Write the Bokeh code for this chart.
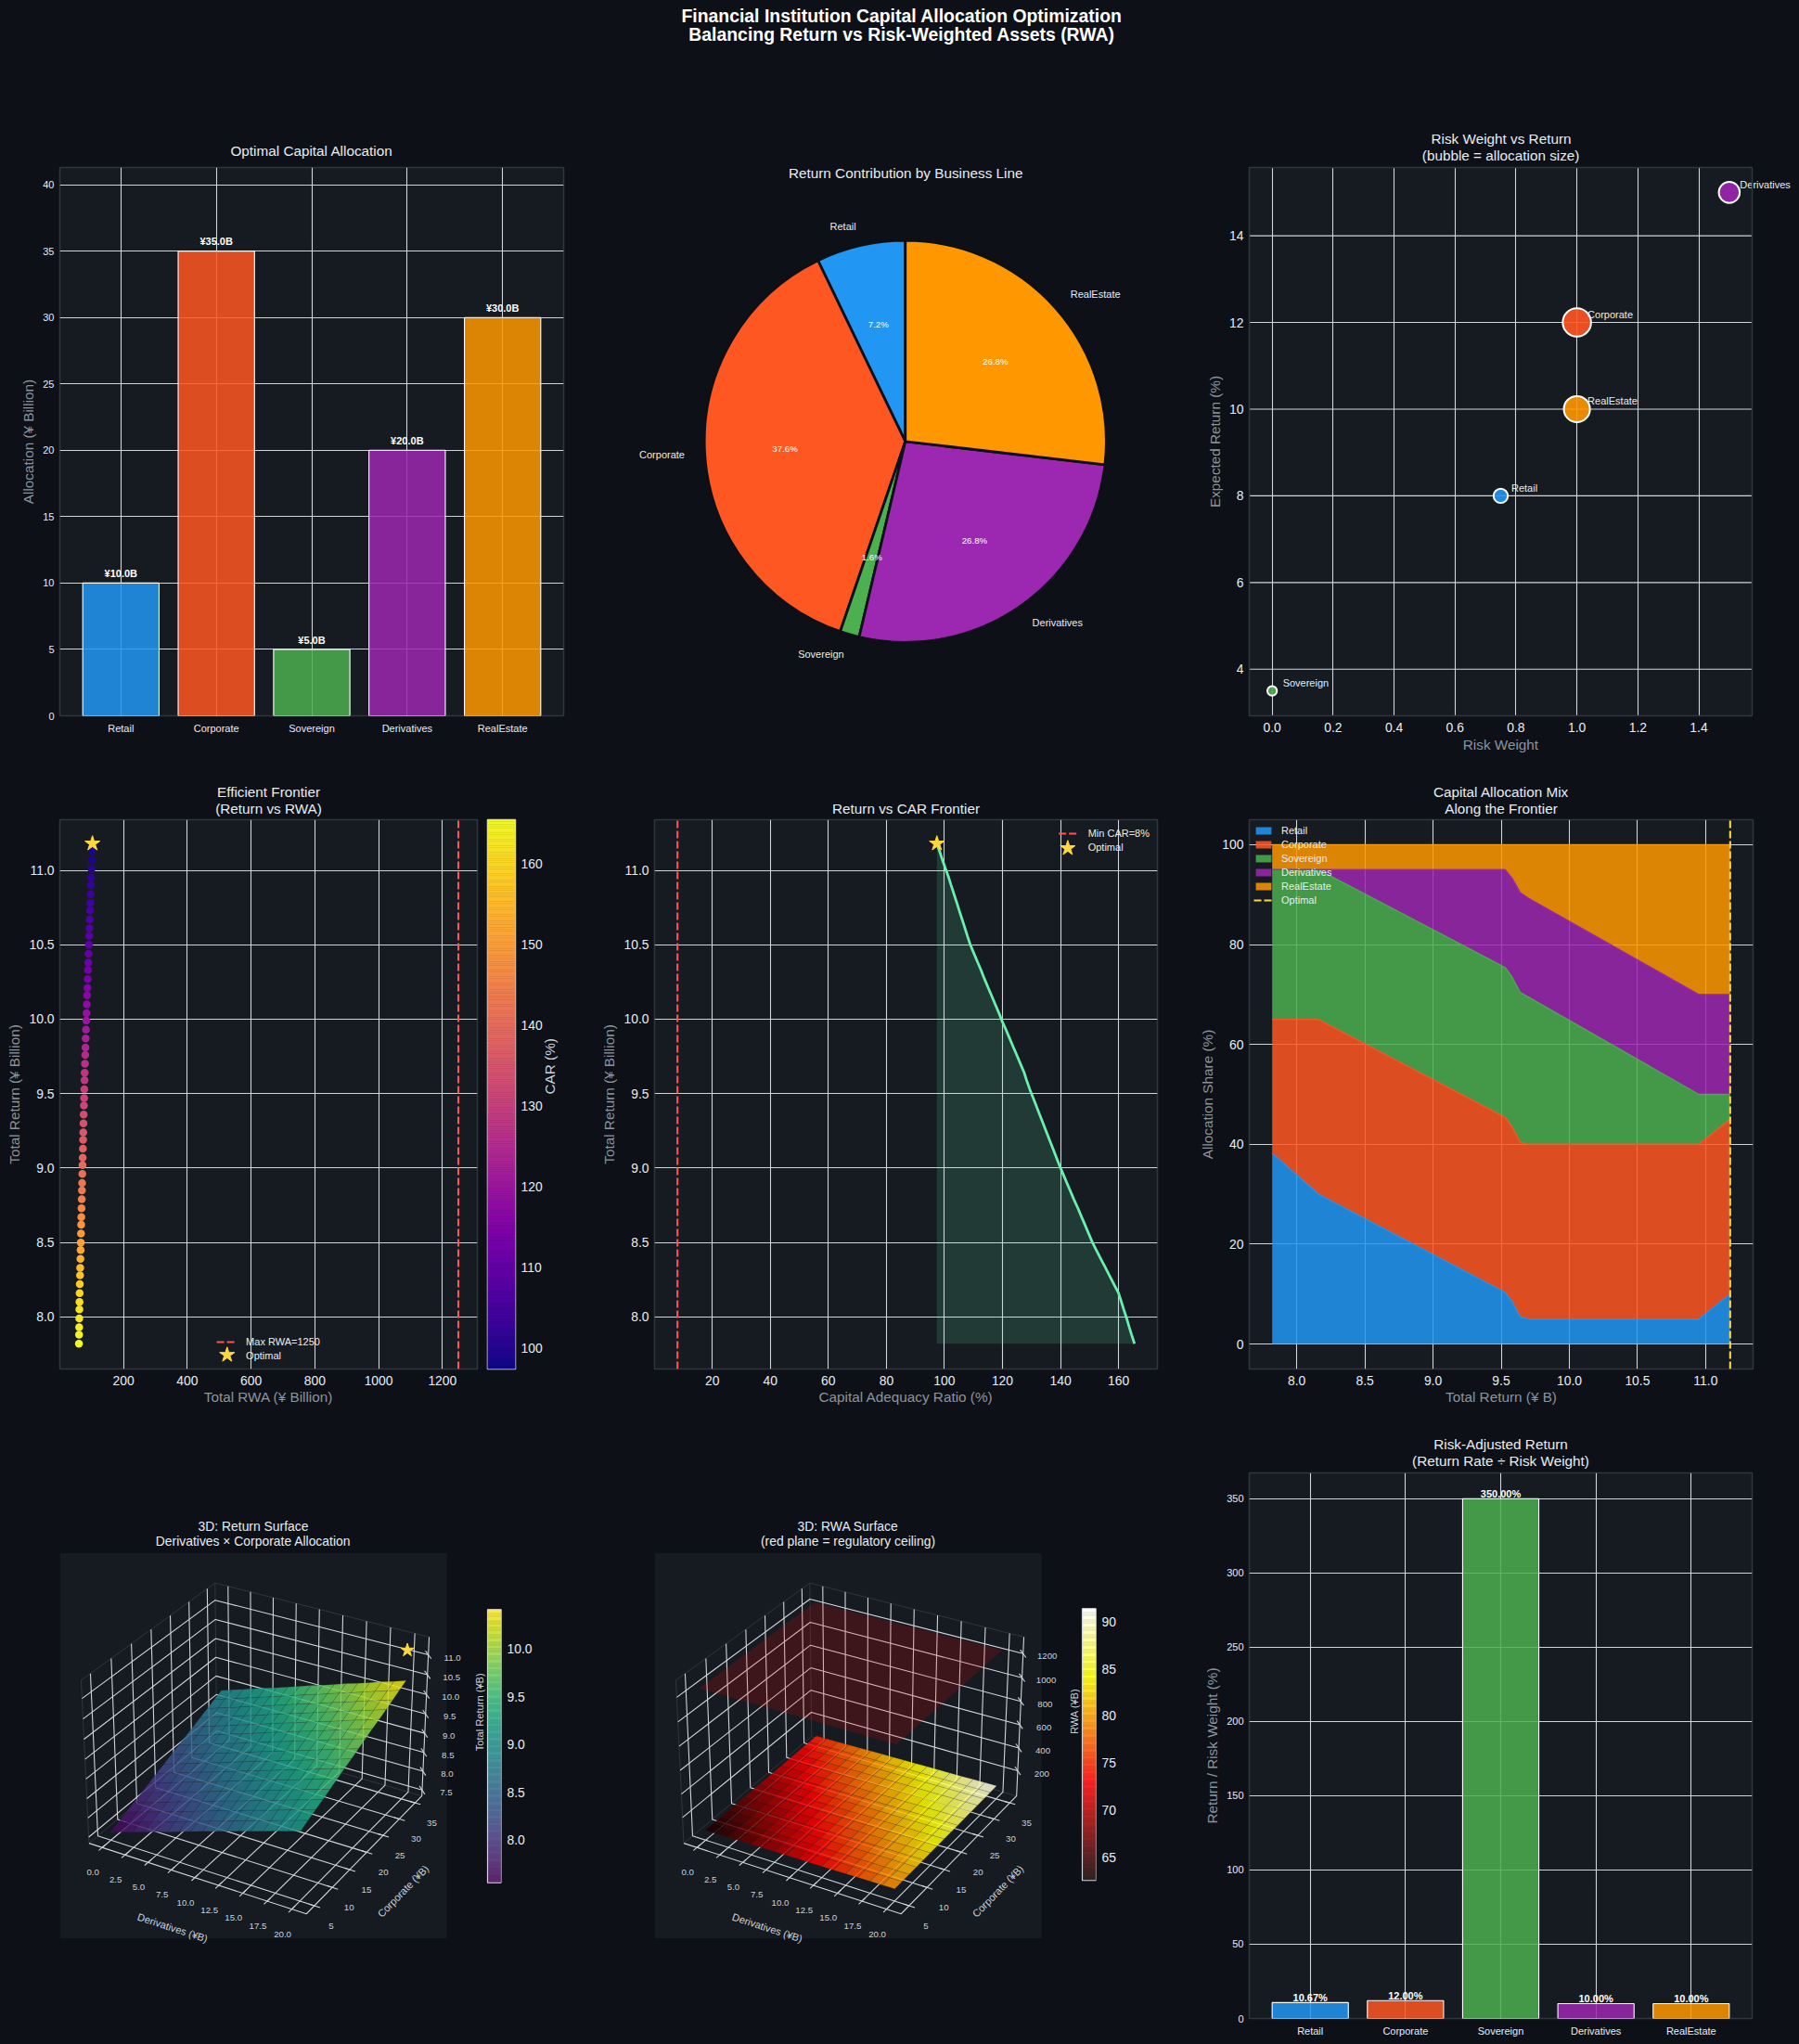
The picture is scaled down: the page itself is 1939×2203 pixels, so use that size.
import math
import numpy as np
from bokeh.plotting import figure
from bokeh.layouts import column, row
from bokeh.models import Range1d, FixedTicker, PrintfTickFormatter, Legend, LegendItem, LinearColorMapper, ColumnDataSource, Title
from bokeh.palettes import Plasma256, Viridis256
from bokeh.core.properties import value
from bokeh.embed import file_html
from bokeh.resources import INLINE

CATEGORIES = ["Retail", "Corporate", "Sovereign", "Derivatives", "RealEstate"]
COLORS = ["#2196F3", "#FF5722", "#4CAF50", "#9C27B0", "#FF9800"]
ALLOCATION = [10, 35, 5, 20, 30]
RETURN_CONTRIB = [0.8, 4.2, 0.175, 3.0, 3.0]
RISK_WEIGHT = [0.75, 1.0, 0.0, 1.5, 1.0]
EXPECTED_RETURN = [8, 12, 3.5, 15, 10]
RISK_ADJ = [10.67, 12.0, 350.0, 10.0, 10.0]

FR_RETURN = [7.82,7.88,7.93,7.99,8.05,8.10,8.16,8.22,8.28,8.33,8.39,8.45,8.50,8.56,8.62,8.67,8.73,8.79,8.85,8.90,
             8.96,9.02,9.07,9.13,9.19,9.24,9.30,9.36,9.42,9.47,9.53,9.59,9.64,9.70,9.76,9.81,9.87,9.93,9.99,10.04,
             10.10,10.16,10.21,10.27,10.33,10.38,10.44,10.50,10.56,10.61,10.67,10.73,10.78,10.84,10.90,10.95,11.01,11.07,11.13,11.18]
FR_CAR = [165.5,164.5,163.7,162.8,161.8,161.0,160.0,158.4,156.8,155.5,153.9,152.3,151.0,149.7,148.4,147.3,146.0,144.6,143.3,142.2,
          140.9,139.6,138.6,137.4,136.2,135.2,134.0,132.8,131.6,130.6,129.4,128.3,127.5,126.2,124.9,123.8,122.5,121.2,119.8,118.8,
          117.5,116.2,115.1,113.8,112.6,111.5,110.2,108.9,107.9,107.1,106.1,105.1,104.3,103.3,102.3,101.5,100.4,99.3,98.3,97.4]
FR_RWA = [60.4,60.8,61.1,61.4,61.8,62.1,62.5,63.1,63.8,64.3,65.0,65.7,66.2,66.8,67.4,67.9,68.5,69.2,69.8,70.3,
          71.0,71.6,72.2,72.8,73.4,74.0,74.6,75.3,76.0,76.6,77.3,78.0,78.4,79.3,80.1,80.8,81.6,82.5,83.5,84.2,
          85.1,86.1,86.9,87.9,88.8,89.7,90.7,91.8,92.7,93.4,94.3,95.1,95.9,96.8,97.8,98.5,99.6,100.7,101.7,102.7]
OPT_RETURN, OPT_RWA, OPT_CAR = 11.18, 102.7, 97.4
MAX_RWA, MIN_CAR = 1250, 8

MIX_RETURN = [7.82, 8.16, 9.53, 9.58, 9.64, 9.70, 10.95, 11.18]
MIX = {
    "Retail": [38.2, 30.0, 10.3, 8.5, 5.4, 5.0, 5.0, 10.0],
    "Corporate": [26.8, 35.0, 35.1, 35.0, 35.0, 35.0, 35.0, 35.0],
    "Sovereign": [30.0, 30.0, 30.0, 30.0, 30.0, 29.5, 10.0, 5.0],
    "Derivatives": [0.0, 0.0, 19.6, 19.8, 20.0, 19.8, 20.0, 20.0],
    "RealEstate": [5.0, 5.0, 5.0, 6.7, 9.6, 10.7, 30.0, 30.0],
}

DERIV_GRID = [0,1.25,2.5,3.75,5,6.25,7.5,8.75,10,11.25,12.5,13.75,15,16.25,17.5,18.75,20]
CORP_GRID = [5,7,9,11,13,15,17,19,21,23,25,27,29,31,33,35]
RETURN_SURF = [
 [7.55,7.65,7.74,7.84,7.94,8.03,8.13,8.23,8.33,8.42,8.52,8.62,8.71,8.81,8.91,9.00,9.10],
 [7.64,7.74,7.83,7.93,8.03,8.12,8.22,8.32,8.42,8.51,8.61,8.71,8.80,8.90,9.00,9.09,9.19],
 [7.73,7.83,7.92,8.02,8.12,8.21,8.31,8.41,8.51,8.60,8.70,8.80,8.89,8.99,9.09,9.18,9.28],
 [7.81,7.91,8.00,8.10,8.20,8.29,8.39,8.49,8.59,8.68,8.78,8.88,8.97,9.07,9.17,9.26,9.36],
 [7.90,8.00,8.09,8.19,8.29,8.38,8.48,8.58,8.68,8.77,8.87,8.97,9.06,9.16,9.26,9.35,9.45],
 [7.99,8.09,8.18,8.28,8.38,8.47,8.57,8.67,8.77,8.86,8.96,9.06,9.15,9.25,9.35,9.44,9.54],
 [8.08,8.18,8.27,8.37,8.47,8.56,8.66,8.76,8.86,8.95,9.05,9.15,9.24,9.34,9.44,9.53,9.63],
 [8.16,8.26,8.35,8.45,8.55,8.64,8.74,8.84,8.94,9.03,9.13,9.23,9.32,9.42,9.52,9.61,9.71],
 [8.25,8.35,8.44,8.54,8.64,8.73,8.83,8.93,9.03,9.12,9.22,9.32,9.41,9.51,9.61,9.70,9.80],
 [8.34,8.44,8.53,8.63,8.73,8.82,8.92,9.02,9.12,9.21,9.31,9.41,9.50,9.60,9.70,9.79,9.89],
 [8.43,8.53,8.62,8.72,8.82,8.91,9.01,9.11,9.21,9.30,9.40,9.50,9.59,9.69,9.79,9.88,9.98],
 [8.51,8.61,8.70,8.80,8.90,8.99,9.09,9.19,9.29,9.38,9.48,9.58,9.67,9.77,9.87,9.96,10.06],
 [8.60,8.70,8.79,8.89,8.99,9.08,9.18,9.28,9.38,9.47,9.57,9.67,9.76,9.86,9.96,10.05,10.15],
 [8.69,8.79,8.88,8.98,9.08,9.17,9.27,9.37,9.47,9.56,9.66,9.76,9.85,9.95,10.05,10.14,10.24],
 [8.78,8.88,8.97,9.07,9.17,9.26,9.36,9.46,9.56,9.65,9.75,9.85,9.94,10.04,10.14,10.23,10.33],
 [8.87,8.97,9.06,9.16,9.26,9.35,9.45,9.55,9.65,9.74,9.84,9.94,10.03,10.13,10.23,10.32,10.42],
]
RWA_SURF = [
 [62.6,63.7,64.7,65.8,66.9,67.9,69.0,70.0,71.1,72.2,73.2,74.3,75.4,76.4,77.5,78.5,79.6],
 [63.4,64.5,65.5,66.6,67.7,68.7,69.8,70.8,71.9,73.0,74.0,75.1,76.2,77.2,78.3,79.3,80.4],
 [64.2,65.3,66.3,67.4,68.5,69.5,70.6,71.6,72.7,73.8,74.8,75.9,77.0,78.0,79.1,80.1,81.2],
 [65.0,66.1,67.1,68.2,69.3,70.3,71.4,72.4,73.5,74.6,75.6,76.7,77.8,78.8,79.9,80.9,82.0],
 [65.7,66.8,67.8,68.9,70.0,71.0,72.1,73.1,74.2,75.3,76.3,77.4,78.5,79.5,80.6,81.6,82.7],
 [66.5,67.6,68.6,69.7,70.8,71.8,72.9,73.9,75.0,76.1,77.1,78.2,79.3,80.3,81.4,82.4,83.5],
 [67.3,68.4,69.4,70.5,71.6,72.6,73.7,74.7,75.8,76.9,77.9,79.0,80.1,81.1,82.2,83.2,84.3],
 [68.1,69.2,70.2,71.3,72.4,73.4,74.5,75.5,76.6,77.7,78.7,79.8,80.9,81.9,83.0,84.0,85.1],
 [68.9,70.0,71.0,72.1,73.2,74.2,75.3,76.3,77.4,78.5,79.5,80.6,81.7,82.7,83.8,84.8,85.9],
 [69.7,70.8,71.8,72.9,74.0,75.0,76.1,77.1,78.2,79.3,80.3,81.4,82.5,83.5,84.6,85.6,86.7],
 [70.5,71.6,72.6,73.7,74.8,75.8,76.9,77.9,79.0,80.1,81.1,82.2,83.3,84.3,85.4,86.4,87.5],
 [71.3,72.4,73.4,74.5,75.6,76.6,77.7,78.7,79.8,80.9,81.9,83.0,84.1,85.1,86.2,87.2,88.3],
 [72.0,73.1,74.1,75.2,76.3,77.3,78.4,79.4,80.5,81.6,82.6,83.7,84.8,85.8,86.9,87.9,89.0],
 [72.8,73.9,74.9,76.0,77.1,78.1,79.2,80.2,81.3,82.4,83.4,84.5,85.6,86.6,87.7,88.7,89.8],
 [73.6,74.7,75.7,76.8,77.9,78.9,80.0,81.0,82.1,83.2,84.2,85.3,86.4,87.4,88.5,89.5,90.6],
 [74.4,75.5,76.5,77.6,78.7,79.7,80.8,81.8,82.9,84.0,85.0,86.1,87.2,88.2,89.3,90.3,91.4],
]
RETURN_CB = (7.55, 10.415)
RWA_CB = (62.6, 91.36)
DERIV_TICKS = [0,2.5,5,7.5,10,12.5,15,17.5,20]
CORP_TICKS = [5,10,15,20,25,30,35]
RET_Z_TICKS = [7.5,8,8.5,9,9.5,10,10.5,11]
RWA_Z_TICKS = [200,400,600,800,1000,1200]

BG, PANEL, SPINE, GRID = "#0d1117", "#161b22", "#30363d", "#d2d5d8"
TXT, LBL, STAR = "#e6edf3", "#8b949e", "#FFD740"
RED, MINT = "#FF5252", "#69F0AE"
FONT = "Liberation Sans"
TICK_S, TICK_L = "11px", "13.9px"
F = value(FONT)
DASH = "8 3"


def add_titles(p, title, standoff):
    lines = title.split("\n")
    for k, line in enumerate(reversed(lines)):
        p.add_layout(Title(text=line, align="center", text_color=TXT, text_font=FONT, text_font_size="15.3px",
                           text_font_style="normal", text_line_height=1.0,
                           standoff=standoff if k == 0 else -10), "above")


def base(w, h, l, r, t, b, xr, yr, title=None, standoff=10, xl=None, yl=None,
         xticks=None, yticks=None, xfmt=None, yfmt=None, tick=TICK_L, **kw):
    p = figure(width=w, height=h, min_border_left=l, min_border_right=r, min_border_top=t, min_border_bottom=b,
               x_range=Range1d(*xr), y_range=Range1d(*yr), output_backend="svg", toolbar_location=None,
               background_fill_color=PANEL, border_fill_color=BG, outline_line_color=SPINE, outline_line_width=1.5, **kw)
    if title:
        add_titles(p, title, standoff)
    for ax, lab, ticks, fmt in ((p.xaxis, xl, xticks, xfmt), (p.yaxis, yl, yticks, yfmt)):
        ax.axis_line_color = None
        ax.major_tick_line_color = None
        ax.minor_tick_line_color = None
        ax.major_label_text_color = TXT
        ax.major_label_text_font = FONT
        ax.major_label_text_font_size = tick
        ax.major_label_standoff = 0
        ax.axis_label_text_color = LBL
        ax.axis_label_text_font = FONT
        ax.axis_label_text_font_size = "15.3px"
        ax.axis_label_text_font_style = "normal"
        ax.axis_label_standoff = 4
        if lab:
            ax.axis_label = lab
        if ticks is not None:
            ax.ticker = FixedTicker(ticks=ticks)
        if fmt:
            ax.formatter = PrintfTickFormatter(format=fmt)
    p.xaxis.major_label_standoff = 1
    p.xaxis.axis_label_standoff = 1
    p.grid.grid_line_color = GRID
    p.grid.grid_line_width = 1.1
    return p


def bar_panel(w, h, l, r, t, b, yr, yticks, vals, labels, yl, title, standoff, off):
    xs = list(range(len(CATEGORIES)))
    p = base(w, h, l, r, t, b, (-0.64, 4.64), yr, title, standoff, yl=yl, xticks=xs, yticks=yticks, tick=TICK_S)
    p.xaxis.major_label_overrides = dict(zip(xs, CATEGORIES))
    p.vbar(x=xs, top=vals, width=0.8, fill_color=COLORS, fill_alpha=0.85, line_color="white", line_width=1.1)
    p.text(x=xs, y=vals, text=labels, text_color="white", text_font=F, text_font_size="11px", text_font_style="bold",
           text_align="center", text_baseline="middle", y_offset=off)
    return p


# ---- Suptitle
top = figure(width=1931, height=100, x_range=Range1d(0, 1931), y_range=Range1d(100, 0), output_backend="svg",
             toolbar_location=None, min_border=0, background_fill_color=BG, border_fill_color=BG, outline_line_color=None)
top.axis.visible = False
top.grid.visible = False
top.text(x=[971.5, 971.5], y=[16.5, 36.5],
         text=["Financial Institution Capital Allocation Optimization", "Balancing Return vs Risk-Weighted Assets (RWA)"],
         text_color="white", text_font=F, text_font_size="19.4px", text_font_style="bold", text_align="center", text_baseline="middle")

# ---- Row 1
p1 = bar_panel(645, 725, 64, 38, 80, 54, (0, 41.3), [0,5,10,15,20,25,30,35,40], ALLOCATION,
               [f"¥{v:.1f}B" for v in ALLOCATION], "Allocation (¥ Billion)", "Optimal Capital Allocation", 20, -10.4)

# Pie
p2 = figure(width=645, height=725, min_border_left=0, min_border_right=0, min_border_top=80, min_border_bottom=54,
            x_range=Range1d(-1.525, 1.453), y_range=Range1d(-1.3652, 1.3633), output_backend="svg", toolbar_location=None,
            background_fill_color=BG, border_fill_color=BG, outline_line_color=None)
p2.axis.visible = False
p2.grid.visible = False
tot = sum(RETURN_CONTRIB)
fr = np.cumsum([0] + RETURN_CONTRIB) / tot
starts = math.pi / 2 + 2 * math.pi * fr[:-1]
ends = math.pi / 2 + 2 * math.pi * fr[1:]
p2.wedge(x=0, y=0, radius=1, start_angle=starts, end_angle=ends, direction="anticlock", fill_color=COLORS,
         line_color=BG, line_width=2.8)
mids = (starts + ends) / 2
lx, ly = 1.1 * np.cos(mids), 1.1 * np.sin(mids)
p2.text(x=lx, y=ly, text=CATEGORIES, text_color=TXT, text_font=F, text_font_size="11px", text_baseline="middle",
        text_align=["right" if v < 0 else "left" for v in lx])
p2.text(x=0.6 * np.cos(mids), y=0.6 * np.sin(mids), text=[f"{100*v/tot:.1f}%" for v in RETURN_CONTRIB], text_color="white",
        text_font=F, text_font_size="9.7px", text_align="center", text_baseline="middle")
p2.text(x=[0.002], y=[1.3356], text=["Return Contribution by Business Line"], text_color=TXT, text_font=F, text_font_size="15.3px",
        text_align="center", text_baseline="middle")

# Bubbles: the frame runs on past the drawn panel, so that the Derivatives label can overhang it
XR3, YR3 = (-0.075, 1.575), (2.925, 15.575)
FW3, FW3_WIDE = 542, 585
X3_WIDE = XR3[0] + FW3_WIDE * (XR3[1] - XR3[0]) / FW3
Y3_TICKS = [4, 6, 8, 10, 12, 14]
p3 = base(641, 725, 56, 0, 80, 54, (XR3[0], X3_WIDE), YR3, None, yl="Expected Return (%)",
          xticks=[0,0.2,0.4,0.6,0.8,1.0,1.2,1.4], yticks=Y3_TICKS, xfmt="%.1f")
p3.background_fill_color = BG
p3.outline_line_color = None
p3.ygrid.visible = False
title_kw = dict(align="left", text_font=FONT, text_font_size="15.3px", text_font_style="normal", text_line_height=1.0)
p3.add_layout(Title(text="(bubble = allocation size)", offset=186.3, standoff=8.5, text_color=TXT, **title_kw), "above")
p3.add_layout(Title(text="Risk Weight vs Return", offset=196, standoff=-10, text_color=TXT, **title_kw), "above")
p3.add_layout(Title(text="Risk Weight", offset=230.3, standoff=1, text_color=LBL, **title_kw), "below")
p3.quad(left=XR3[0], right=XR3[1], bottom=YR3[0], top=YR3[1], fill_color=PANEL, line_color=None, level="image")
p3.segment(x0=[XR3[0]] * len(Y3_TICKS), x1=[XR3[1]] * len(Y3_TICKS), y0=Y3_TICKS, y1=Y3_TICKS, line_color=GRID, line_width=1.1, level="underlay")
p3.quad(left=XR3[0], right=XR3[1], bottom=YR3[0], top=YR3[1], fill_color=None, line_color=SPINE, line_width=1.5, level="overlay")
p3.scatter(x=RISK_WEIGHT, y=EXPECTED_RETURN, size=[5.5 * math.sqrt(a) - 2 for a in ALLOCATION], fill_color=COLORS,
           fill_alpha=0.9, line_color="white", line_width=2)
p3.text(x=RISK_WEIGHT, y=EXPECTED_RETURN, text=CATEGORIES, x_offset=11.5, y_offset=-8.7, text_color=TXT, text_font=F,
        text_font_size="11px", text_baseline="middle")

# ---- Row 2
YR_RET = (7.65, 11.34)
RET_TICKS = [8, 8.5, 9, 9.5, 10, 10.5, 11]
p4 = base(520, 705, 64, 6, 58, 55, (0.5, 1309.5), YR_RET, "Efficient Frontier\n(Return vs RWA)", 8, xl="Total RWA (¥ Billion)",
          yl="Total Return (¥ Billion)", xticks=[200,400,600,800,1000,1200], yticks=RET_TICKS, yfmt="%.1f")
mapper = LinearColorMapper(palette=Plasma256, low=min(FR_CAR), high=max(FR_CAR))
src4 = ColumnDataSource(dict(x=FR_RWA, y=FR_RETURN, c=FR_CAR))
p4.scatter("x", "y", size=8.5, source=src4, fill_color={"field": "c", "transform": mapper}, line_color=None)
r_lim = p4.line([MAX_RWA, MAX_RWA], list(YR_RET), line_color=RED, line_width=2.1, line_dash=DASH)
r_star = p4.scatter([OPT_RWA], [OPT_RETURN], marker="star", size=17, fill_color=STAR, line_color=STAR)
p4.scatter([525], [7.745], marker="star", size=17, fill_color=STAR, line_color=STAR, level="overlay")


def small_legend(p, items, loc, **kw):
    opts = dict(background_fill_alpha=0, border_line_alpha=0, label_text_color=TXT, label_text_font=FONT,
                label_text_font_size="11px", glyph_width=21, glyph_height=10, label_height=13, spacing=2, padding=4,
                margin=4, label_standoff=11)
    opts.update(kw)
    leg = Legend(items=items, location=loc, **opts)
    p.add_layout(leg)
    return leg


small_legend(p4, [LegendItem(label=f"Max RWA={MAX_RWA}", renderers=[r_lim]), LegendItem(label="Optimal", renderers=[r_star])], "bottom_center")


def over_white(palette, alpha=0.85):
    out = []
    for c in palette:
        r, g, b = int(c[1:3], 16), int(c[3:5], 16), int(c[5:7], 16)
        out.append("#%02x%02x%02x" % tuple(int(alpha * v + (1 - alpha) * 255) for v in (r, g, b)))
    return out


def gradient_quads(p, palette, lo, hi, left, right):
    ed = np.linspace(lo, hi, len(palette) + 1)
    p.quad(left=left, right=right, bottom=ed[:-1], top=ed[1:], fill_color=list(palette), line_color=list(palette), line_width=0.5)


cb4 = base(125, 705, 5, 90, 58, 55, (0, 1), (min(FR_CAR), max(FR_CAR)), yticks=[100,110,120,130,140,150,160], y_axis_location="right",
           yl="CAR (%)")
cb4.xaxis.visible = False
cb4.grid.visible = False
cb4.outline_line_color = GRID
cb4.yaxis.axis_label_text_color = "#c9d1d9"
cb4.yaxis.axis_label_standoff = 5
cb4.yaxis.axis_label_orientation = math.pi / 2
gradient_quads(cb4, Plasma256, min(FR_CAR), max(FR_CAR), 0, 1)

p5 = base(645, 705, 60, 43, 58, 55, (0.1, 173.4), YR_RET, "Return vs CAR Frontier", 8, xl="Capital Adequacy Ratio (%)",
          yl="Total Return (¥ Billion)", xticks=[20,40,60,80,100,120,140,160], yticks=RET_TICKS, yfmt="%.1f")
p5.varea(x=FR_CAR, y1=FR_RETURN, y2=min(FR_RETURN), fill_color=MINT, fill_alpha=0.15)
p5.line(x=FR_CAR, y=FR_RETURN, line_color=MINT, line_width=2.8)
r_lim5 = p5.line([MIN_CAR, MIN_CAR], list(YR_RET), line_color=RED, line_width=2.1, line_dash=DASH)
r_star5 = p5.scatter([OPT_CAR], [OPT_RETURN], marker="star", size=17, fill_color=STAR, line_color=STAR)
p5.scatter([142.5], [11.149], marker="star", size=17, fill_color=STAR, line_color=STAR, level="overlay")
small_legend(p5, [LegendItem(label=f"Min CAR={MIN_CAR}%", renderers=[r_lim5]), LegendItem(label="Optimal", renderers=[r_star5])], "top_right")

p6 = base(641, 705, 56, 42, 58, 55, (7.652, 11.348), (-5, 105), "Capital Allocation Mix\nAlong the Frontier", 8, xl="Total Return (¥ B)",
          yl="Allocation Share (%)", xticks=RET_TICKS, yticks=[0,20,40,60,80,100], xfmt="%.1f")
src6 = ColumnDataSource(dict(x=MIX_RETURN, **MIX))
areas = p6.varea_stack(stackers=CATEGORIES, x="x", color=COLORS, alpha=0.85, source=src6)
cum = np.cumsum([MIX[c] for c in CATEGORIES], axis=0)
for k, c in enumerate(COLORS):
    p6.line(MIX_RETURN, cum[k], line_color=c, line_width=1.4, line_alpha=0.9)
r_opt = p6.line([OPT_RETURN, OPT_RETURN], [-5, 105], line_color=STAR, line_width=2.1, line_dash=DASH)
small_legend(p6, [LegendItem(label=c, renderers=[a]) for c, a in zip(CATEGORIES, areas)] + [LegendItem(label="Optimal", renderers=[r_opt])],
             (1, 494.8), label_standoff=9)

# ---- Row 3: 3D
ELEV, AZIM, DIST = math.radians(30), math.radians(-60), 10.0
_a = np.array([4.0, 4.0, 3.0])
BOX = _a * 1.8294640721620434 * 25 / 24 / np.linalg.norm(_a)
_w = np.array([math.cos(ELEV) * math.cos(AZIM), math.cos(ELEV) * math.sin(AZIM), math.sin(ELEV)])
_u = np.cross([0, 0, 1], _w)
_u = _u / np.linalg.norm(_u)
_v = np.cross(_w, _u)
XL2, YL2 = (-0.095, 0.09), (-0.095, 0.09)
PX = (XL2[1] - XL2[0]) / 417.0
R3_H, R3_T, R3_B = 667, 57, 19
ABOVE_3D, BELOW_3D = 87, 87


def expand(lo, hi):
    return lo - (hi - lo) / 48, hi + (hi - lo) / 48


def projector(xl, yl, zl):
    def f(x, y, z):
        n = [(np.asarray(v, dtype=float) - l[0]) / (l[1] - l[0]) * b - b / 2 for v, l, b in zip((x, y, z), (xl, yl, zl), BOX)]
        xv = sum(_u[i] * n[i] for i in range(3))
        yv = sum(_v[i] * n[i] for i in range(3))
        zv = sum(_w[i] * n[i] for i in range(3)) - DIST
        return xv / (-zv), yv / (-zv)
    return f


def draw3d(p, zl, zticks, zfmt):
    xl = expand(-1.0, 21.0)
    yl = expand(3.5, 36.5)
    f = projector(xl, yl, zl)
    p.quad(left=XL2[0], right=XL2[1], bottom=YL2[0], top=YL2[1], fill_color=PANEL, line_color=None)
    x0, x1, y0, y1, z0, z1 = xl[0], xl[1], yl[0], yl[1], zl[0], zl[1]
    for a in [[(x0,y0,z0),(x0,y1,z0),(x1,y1,z0)], [(x0,y0,z1),(x0,y1,z1),(x1,y1,z1)], [(x0,y1,z0),(x0,y1,z1)], [(x0,y0,z0),(x0,y0,z1)]]:
        a = np.array(a)
        X, Y = f(a[:, 0], a[:, 1], a[:, 2])
        p.line(X, Y, line_color=SPINE, line_width=1)
    gx, gy = [], []
    def add(pts):
        a = np.array(pts, dtype=float)
        X, Y = f(a[:, 0], a[:, 1], a[:, 2])
        gx.append(list(X)); gy.append(list(Y))
    for t in DERIV_TICKS:
        add([(t, y0, z0), (t, y1, z0), (t, y1, z1)])
    for t in CORP_TICKS:
        add([(x1, t, z0), (x0, t, z0), (x0, t, z1)])
    for t in zticks:
        add([(x1, y1, t), (x0, y1, t), (x0, y0, t)])
    ty, tx = (y1 - y0) * 0.025, (x1 - x0) * 0.025
    for t in DERIV_TICKS:
        add([(t, y0 - ty, z0), (t, y0 + ty, z0)])
    for t in CORP_TICKS:
        add([(x1 + tx, t, z0), (x1 - tx, t, z0)])
    for t in zticks:
        add([(x1 + tx, y1 - ty, t), (x1 - tx, y1 + ty, t)])
    add([(x0, y0, z0), (x1, y0, z0), (x1, y1, z0), (x1, y1, z1)])
    p.multi_line(gx, gy, line_color=GRID, line_width=1.1)
    tk = dict(text_color="#c9d1d9", text_font=F, text_font_size="9.7px", text_align="center", text_baseline="middle")
    X, Y = f(DERIV_TICKS, [y0] * len(DERIV_TICKS), [z0] * len(DERIV_TICKS))
    p.text(X, Y, text=[f"{t:.1f}" for t in DERIV_TICKS], x_offset=-10, y_offset=27, **tk)
    X, Y = f([x1] * len(CORP_TICKS), CORP_TICKS, [z0] * len(CORP_TICKS))
    p.text(X, Y, text=[str(t) for t in CORP_TICKS], x_offset=18, y_offset=22, **tk)
    X, Y = f([x1] * len(zticks), [y1] * len(zticks), zticks)
    p.text(X, Y, text=[zfmt % t for t in zticks], x_offset=26, y_offset=3, **tk)
    A = f([x0, x1], [y0, y0], [z0, z0])
    B = f([x1, x1], [y0, y1], [z0, z0])
    lab = dict(text_color="#c9d1d9", text_font=F, text_font_size="11.1px", text_align="center", text_baseline="middle")
    p.text([(A[0][0] + A[0][1]) / 2], [(A[1][0] + A[1][1]) / 2], text=["Derivatives (¥B)"], x_offset=-27, y_offset=53,
           angle=math.atan2(A[1][1] - A[1][0], A[0][1] - A[0][0]), **lab)
    p.text([(B[0][0] + B[0][1]) / 2], [(B[1][0] + B[1][1]) / 2], text=["Corporate (¥B)"], x_offset=42, y_offset=39,
           angle=math.atan2(B[1][1] - B[1][0], B[0][1] - B[0][0]), **lab)
    return f


def surface(p, f, table, pal, rng, alpha=0.85):
    t = np.array(table)
    xs, ys, cs = [], [], []
    for j in range(len(CORP_GRID) - 1):
        for i in range(len(DERIV_GRID) - 1):
            dx = [DERIV_GRID[i], DERIV_GRID[i + 1], DERIV_GRID[i + 1], DERIV_GRID[i]]
            cy = [CORP_GRID[j], CORP_GRID[j], CORP_GRID[j + 1], CORP_GRID[j + 1]]
            zz = [t[j, i], t[j, i + 1], t[j + 1, i + 1], t[j + 1, i]]
            X, Y = f(dx, cy, zz)
            xs.append(list(X)); ys.append(list(Y))
            v = (float(np.mean(zz)) - rng[0]) / (rng[1] - rng[0])
            cs.append(pal[int(min(max(v, 0), 1) * (len(pal) - 1))])
    p.patches(xs, ys, fill_color=cs, fill_alpha=alpha, line_color="#20242a", line_width=0.4, line_alpha=0.35)


def hot_pal(n=256):
    out = []
    for i in range(n):
        t = i / (n - 1)
        r = min(1.0, 0.0416 + t / 0.365079 * (1 - 0.0416))
        g = min(1.0, max(0.0, (t - 0.365079) / (0.746032 - 0.365079)))
        b = min(1.0, max(0.0, (t - 0.746032) / (1 - 0.746032)))
        out.append("#%02x%02x%02x" % (int(r * 255), int(g * 255), int(b * 255)))
    return out


def fig3d(w, l, title_lines):
    p = figure(width=l + w, height=R3_H, min_border_left=l, min_border_right=0, min_border_top=R3_T, min_border_bottom=R3_B,
               x_range=Range1d(XL2[0], XL2[0] + w * PX), y_range=Range1d(YL2[0] - BELOW_3D * PX, YL2[1] + ABOVE_3D * PX),
               output_backend="svg", toolbar_location=None, background_fill_color=BG, border_fill_color=BG, outline_line_color=None)
    p.axis.visible = False
    p.grid.visible = False
    mid = (XL2[0] + XL2[1]) / 2
    p.text([mid, mid], [YL2[1] + 29 * PX, YL2[1] + 13 * PX], text=title_lines, text_color=TXT, text_font=F, text_font_size="13.9px",
           text_align="center", text_baseline="middle")
    return p


p7 = fig3d(441, 64, ["3D: Return Surface", "Derivatives × Corporate Allocation"])
f7 = draw3d(p7, expand(7.421, 11.359), RET_Z_TICKS, "%.1f")
surface(p7, f7, RETURN_SURF, Viridis256, RETURN_CB)
sx, sy = f7([20], [35], [OPT_RETURN])
p7.scatter(sx, sy, marker="star", size=15, fill_color=STAR, line_color=STAR)

p8 = fig3d(435, 60, ["3D: RWA Surface", "(red plane = regulatory ceiling)"])
f8 = draw3d(p8, expand(3.3, 1309.4), RWA_Z_TICKS, "%d")
px_, py_ = f8([0, 20, 20, 0], [5, 5, 35, 35], [MAX_RWA] * 4)
surface(p8, f8, RWA_SURF, hot_pal(), RWA_CB)
p8.patch(list(px_), list(py_), fill_color="#ff0000", fill_alpha=0.17, line_color=None)


def cb3d(w, frame_w, l, bar_top, bar_bottom, palette, rng, ticks, label, label_x, label_y, fmt=None):
    k = (rng[1] - rng[0]) / (bar_bottom - bar_top)
    yr = (rng[0] - (2178 - bar_bottom) * k, rng[1] + (bar_top - 1587) * k)
    p = base(w, R3_H, l, w - l - frame_w, R3_T, R3_B, (0, frame_w), yr, yticks=ticks, y_axis_location="right", yfmt=fmt)
    p.xaxis.visible = False
    p.grid.visible = False
    p.background_fill_color = BG
    p.outline_line_color = None
    lf = frame_w - 15
    gradient_quads(p, over_white(palette), rng[0], rng[1], lf, frame_w)
    p.quad(left=lf, right=frame_w, bottom=rng[0], top=rng[1], fill_color=None, line_color=GRID, line_width=1.2)
    p.text([label_x], [label_y], text=[label], angle=math.pi / 2, text_color="#c9d1d9", text_font=F, text_font_size="11.1px",
           text_align="center", text_baseline="middle")
    return p


cb7 = cb3d(140, 35, 0, 1735, 2031, Viridis256, RETURN_CB, [8, 8.5, 9, 9.5, 10], "Total Return (¥B)", 11, 9.34, "%.1f")
cb8 = cb3d(150, 36, 5, 1734, 2028.5, hot_pal(), RWA_CB, [65, 70, 75, 80, 85, 90], "RWA (¥B)", 12, 80.5)

p9 = bar_panel(641, R3_H, 56, 43, R3_T, R3_B, (0, 367.3), [0,50,100,150,200,250,300,350], RISK_ADJ, [f"{v:.2f}%" for v in RISK_ADJ],
               "Return / Risk Weight (%)", "Risk-Adjusted Return\n(Return Rate ÷ Risk Weight)", 8.5, -5)

layout = column(top,
                row(p1, p2, p3),
                row(p4, cb4, p5, p6),
                row(p7, cb7, p8, cb8, p9))

html = file_html(layout, INLINE, title="Capital Allocation")
html = html.replace("</head>", "<style>html,body{background:#0d1117;}</style></head>", 1)
open("out.html", "w").write(html)
